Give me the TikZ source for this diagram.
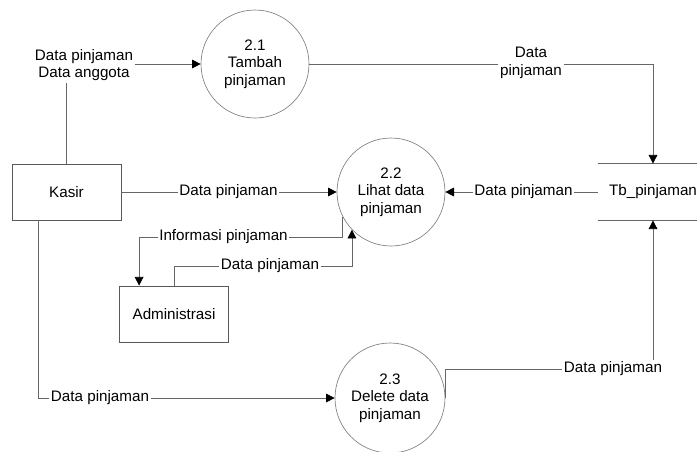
\documentclass[tikz,border=0pt]{standalone}
\usepackage{fontspec}
\setmainfont{Liberation Sans}
\usetikzlibrary{arrows.meta}

\newcommand{\dfdfont}{\fontsize{11.4}{13.2}\selectfont}

\tikzset{every picture/.style={line width=0.6pt}}

\begin{document}
\begin{tikzpicture}[x=0.75pt,y=0.75pt,yscale=-1,xscale=1,
    proc/.style={circle, draw=black!50, line width=0.5pt, minimum size=81pt, inner sep=0pt, align=center, font=\dfdfont},
    ent/.style={rectangle, draw=black!65, line width=0.6pt, minimum width=81.75pt, minimum height=42pt, font=\dfdfont},
    store/.style={minimum width=82.5pt, minimum height=42pt, inner sep=0pt, font=\dfdfont},
    lbl/.style={inner sep=1pt, align=center, font=\dfdfont},
    conn/.style={draw=black!60, line width=0.6pt},
    flow/.style={conn, -{Triangle[length=6.5pt,width=6.5pt,color=black]}}]
\useasboundingbox (0,0) rectangle (697,451);

%Shape: Circle [proses]
\node[proc] (p21) at (255,64) {2.1\\Tambah\\pinjaman};
\node[proc] (p22) at (391,192) {2.2\\Lihat data\\pinjaman};
\node[proc, minimum size=82.5pt] (p23) at (390,398) {2.3\\Delete data\\pinjaman};

%Shape: Rectangle [entitas]
\node[ent] (kasir) at (66.5,192) {Kasir};
\node[ent] (admin) at (174,314) {Administrasi};

%Data store
\node[store] (tb) at (653,192) {Tb\_pinjaman};
\draw[conn] (tb.north west) -- (tb.north east) (tb.south west) -- (tb.south east);

% Text Node
\node[lbl] (la) at (84,65) {Data pinjaman\\Data anggota};
\node[lbl] (lb) at (531,63) {Data\\pinjaman};
\node[lbl] (lc) at (228.5,192) {Data pinjaman};
\node[lbl] (ld) at (523.5,192) {Data pinjaman};
\node[lbl] (le) at (223.5,237) {Informasi pinjaman};
\node[lbl] (lf) at (270,266) {Data pinjaman};
\node[lbl] (lg) at (100,398) {Data pinjaman};
\node[lbl] (lh) at (613,369) {Data pinjaman};

%Straight Lines
\draw[conn] (kasir.north) -- (kasir.north |- la.south);
\draw[flow] (la.east |- p21.west) -- (p21.west);
\draw[conn] (p21.east) -- (lb.west |- p21.east);
\draw[flow] (lb.east |- p21.east) -| (tb.north);
\draw[conn] (kasir.east) -- (lc.west);
\draw[flow] (lc.east) -- (p22.west);
\draw[conn] (tb.west) -- (ld.east);
\draw[flow] (ld.west) -- (p22.east);
\draw[conn] (p22.207) |- (le.east);
\draw[flow] (le.west) -| ([xshift=15pt]admin.north west);
\draw[conn] (admin.north) |- (lf.west);
\draw[flow] (lf.east) -| (p22.224);
\draw[conn] ([xshift=20.25pt]kasir.south west) |- (lg.west);
\draw[flow] (lg.east) -- (p23.west);
\draw[conn] (p23.east) |- (lh.west);
\draw[flow] (lh.north -| tb.south) -- (tb.south);
\end{tikzpicture}
\end{document}
